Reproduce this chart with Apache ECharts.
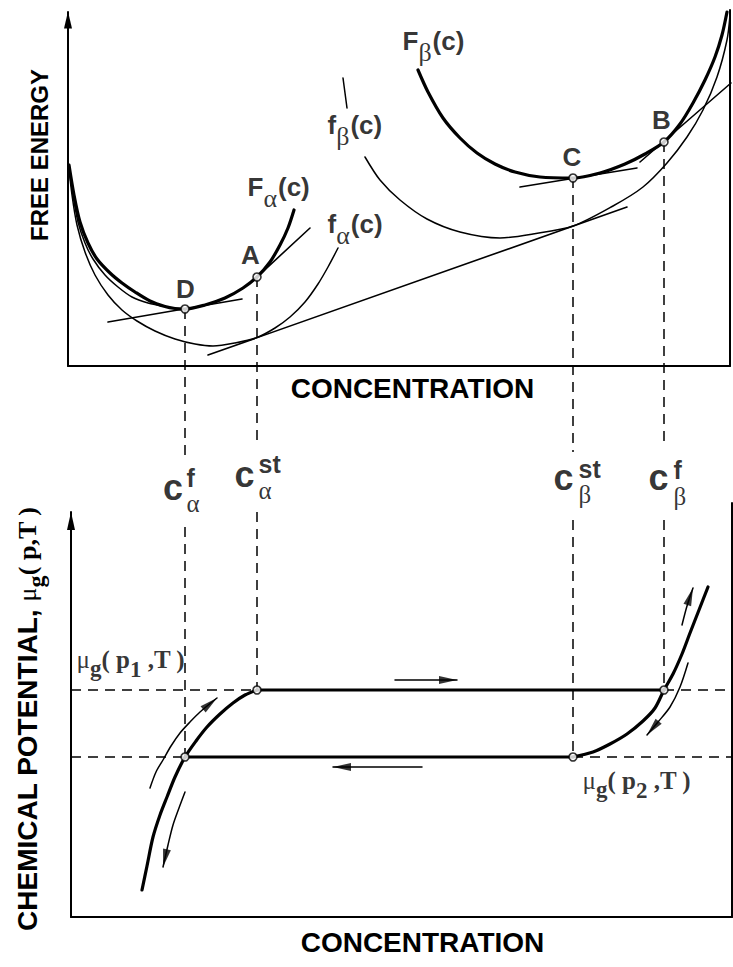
<!DOCTYPE html>
<html>
<head>
<meta charset="utf-8">
<script src="https://cdn.jsdelivr.net/npm/echarts@6/dist/echarts.min.js"></script>
<style>
  html, body { margin: 0; padding: 0; background: #fff; }
  #chart { width: 733px; height: 967px; }
</style>
</head>
<body>
<div id="chart"></div>
<script>
// ---------- Upper panel: free energy vs concentration (arbitrary units) ----------
// stressed alpha phase, F_alpha(c)
const bigFAlpha = [[0.1,20.1],[0.6,17.1],[1.2,14.4],[2.0,12.3],[2.9,10.7],[4.2,9.3],[5.4,8.3],[6.7,7.4],[8.2,6.5],[9.7,5.95],[10.7,5.75],[11.7,5.7],[13.7,6.1],[15.7,6.8],[17.5,7.8],[18.9,8.9],[20.2,10.4],[21.2,12.1],[22.0,13.8],[22.6,15.6]];
// second stroke running beside F_alpha on its steep left branch
const bigFAlphaEdge = [[0.1,20.1],[0.5,17.1],[1.0,14.4],[1.7,12.3],[2.5,10.7],[3.7,9.1],[5.0,7.9],[6.4,6.9],[8.0,6.3],[9.7,5.95]];
// unstressed alpha phase, f_alpha(c)
const smallFAlpha = [[0.0,20.6],[0.4,17.1],[0.9,14.1],[1.7,11.4],[2.7,9.1],[4.0,7.1],[5.4,5.6],[6.9,4.5],[8.7,3.5],[10.7,2.7],[12.7,2.2],[14.5,2.0],[16.7,2.3],[18.9,2.85],[20.7,3.8],[22.2,4.9],[23.7,6.4],[25.0,8.2],[26.0,9.9],[27.0,11.8]];
// unstressed beta phase, f_beta(c): short upper stroke and main branch
const smallFBetaTop = [[27.5,28.8],[27.9,25.8]];
const smallFBeta = [[29.7,20.9],[31.2,18.6],[33.2,16.6],[35.9,14.7],[39.2,13.4],[43.2,12.8],[46.5,13.2],[50.5,14.0],[54.5,16.0],[57.5,17.9],[59.9,20.3],[61.9,22.9],[63.5,25.6],[64.9,28.9],[65.9,32.6],[66.2,35.1]];
// stressed beta phase, F_beta(c)
const bigFBeta = [[35.0,29.6],[36.0,27.4],[37.5,24.8],[39.2,22.8],[40.9,21.3],[42.7,20.2],[44.7,19.4],[47.2,18.9],[50.5,18.8],[53.2,19.3],[55.7,20.2],[57.7,21.2],[59.6,22.4],[61.2,24.2],[62.5,26.3],[63.7,28.6],[64.7,30.9],[65.4,33.1],[65.9,35.4]];
// tangent lines
const commonTangent = [[14.0,1.1],[55.9,15.9]];
const tangentAtD = [[4.0,4.4],[17.4,6.7]];
const tangentAtA = [[18.2,8.25],[24.2,13.8]];
const tangentAtC = [[45.2,17.9],[56.9,19.8]];
const tangentAtB = [[57.2,20.4],[66.3,28.3]];
// marked states on the stressed curves
const stateNames = ['D', 'A', 'C', 'B'];
const stateConc = [11.7, 18.9, 50.5, 59.6];      // c_alpha^f, c_alpha^st, c_beta^st, c_beta^f
const stateEnergy = [5.7, 8.9, 18.8, 22.4];

// ---------- Lower panel: gas chemical potential vs concentration ----------
const muP1 = 22.7;   // mu_g(p1,T)
const muP2 = 16.0;   // mu_g(p2,T)
const alphaIsotherm = [[7.4,2.7],[7.9,5.1],[8.5,8.0],[9.2,10.2],[9.9,12.0],[10.7,14.0],[11.7,16.0],[12.8,17.6],[13.9,19.0],[15.2,20.3],[16.5,21.4],[17.7,22.2],[18.9,22.7]];
const betaIsotherm = [[50.5,16.0],[52.5,16.5],[54.2,17.3],[55.9,18.3],[57.5,19.6],[58.7,20.9],[59.6,22.7],[60.5,24.3],[61.4,26.3],[62.2,28.4],[63.1,30.7],[64.0,33.0]];
// direction-of-travel arrows
const alphaUpPath = [[8.2,12.9],[8.8,14.5],[9.5,15.7],[10.3,17.1],[11.2,18.4],[12.2,19.5],[13.2,20.5],[14.9,21.9]];
const alphaDownPath = [[11.7,12.5],[11.1,10.9],[10.5,9.2],[10.0,7.2],[9.5,5.0]];
const betaUpPath = [[61.4,29.2],[61.9,31.1],[62.5,32.9]];
const betaDownPath = [[62.0,25.4],[61.2,23.0],[60.2,21.0],[59.0,19.5],[57.9,18.2]];
const absorbArrow = [[32.7,23.7],[38.9,23.7]];
const desorbArrow = [[35.4,15.0],[26.5,15.0]];

// ---------- layout ----------
const INK = '#000';
const SANS = "'Liberation Sans', Arial, Helvetica, sans-serif";
const SERIF = "'Liberation Serif', 'DejaVu Serif', serif";
const TOP = { xMin: 0, xMax: 66.2, yMax: 35.4 };
const BOT = { xMin: 0.3, xMax: 66.4, yMax: 40.5 };
// where the dashed drop lines break around the c labels
const dropBreakTop = [-9.1, -8.1, -8.6, -8.1];   // upper-panel units
const dropBreakBot = [39.0, 40.5, 39.7, 39.7];   // lower-panel units

function curve(data, g, width, extra) {
  return Object.assign({
    type: 'line', xAxisIndex: g, yAxisIndex: g, data: data,
    symbol: 'none', showSymbol: false, smooth: 0.3, clip: false, silent: true, z: 3,
    lineStyle: { color: INK, width: width, cap: 'round', join: 'round' }
  }, extra || {});
}
function dashed(data, g) {
  return curve(data, g, 1.5, { smooth: false, z: 2, lineStyle: { color: INK, width: 1.5, type: [10, 7] } });
}
// arrow head placed at the last point, oriented along the final segment
// (both panels use the same pixel size for one unit on x and y)
function arrowHead(path, g, size) {
  const a = path[path.length - 2], b = path[path.length - 1];
  const dx = b[0] - a[0], dy = b[1] - a[1];
  const len = Math.hypot(dx, dy);
  const back = size[1] / 20;
  const cx = b[0] - dx / len * back, cy = b[1] - dy / len * back;
  const ang = Math.atan2(dy, dx) * 180 / Math.PI - 90;
  return {
    type: 'scatter', xAxisIndex: g, yAxisIndex: g, clip: false, silent: true, z: 4,
    symbol: 'triangle', symbolSize: size, symbolRotate: ang,
    itemStyle: { color: INK }, data: [[cx, cy]]
  };
}
function openPoints(data, g) {
  return {
    type: 'scatter', xAxisIndex: g, yAxisIndex: g, clip: false, silent: true, z: 6,
    symbol: 'circle', symbolSize: 8,
    itemStyle: { color: '#fff', borderColor: INK, borderWidth: 1.6 }, data: data
  };
}
const rich = {
  L: { fontFamily: SANS, fontWeight: 'bold', fontSize: 26, color: INK },
  Lsub: { fontFamily: SERIF, fontSize: 26, color: INK, padding: [24, 1, 0, 0] },
  P: { fontFamily: SANS, fontWeight: 'bold', fontSize: 26, color: INK },
  C: { fontFamily: SANS, fontWeight: 'bold', fontSize: 36, color: INK },
  sup: { fontFamily: SANS, fontWeight: 'bold', fontSize: 25, color: INK, lineHeight: 26 },
  sub: { fontFamily: SERIF, fontSize: 25, color: INK, lineHeight: 26 },
  mu: { fontFamily: SERIF, fontSize: 25, color: INK },
  g: { fontFamily: SERIF, fontWeight: 'bold', fontSize: 23, color: INK, padding: [18, 0, 0, 0] },
  m: { fontFamily: SERIF, fontWeight: 'bold', fontSize: 25, color: INK },
  n: { fontFamily: SERIF, fontWeight: 'bold', fontSize: 23, color: INK, padding: [20, 0, 0, 0] }
};
function texts(g, items) {
  return {
    type: 'scatter', xAxisIndex: g, yAxisIndex: g, clip: false, silent: true, z: 8,
    symbolSize: 1, itemStyle: { color: 'rgba(0,0,0,0)' },
    data: items.map(function (it) {
      return {
        value: it.at,
        label: { show: true, position: [0, 0], align: it.align || 'left', verticalAlign: 'middle',
                 formatter: it.text, rich: rich }
      };
    })
  };
}

const series = [];
// upper panel curves
series.push(curve(smallFAlpha, 0, 1.5));
series.push(curve(bigFAlphaEdge, 0, 1.5));
series.push(curve(bigFAlpha, 0, 3.2));
series.push(curve(smallFBetaTop, 0, 1.5, { smooth: false }));
series.push(curve(smallFBeta, 0, 1.5));
series.push(curve(bigFBeta, 0, 3.2));
[commonTangent, tangentAtD, tangentAtA, tangentAtC, tangentAtB].forEach(function (t) {
  series.push(curve(t, 0, 1.6, { smooth: false }));
});
// right frame edges
series.push(curve([[TOP.xMax, 0], [TOP.xMax, TOP.yMax + 0.2]], 0, 2, { smooth: false }));
series.push(curve([[BOT.xMax, 0], [BOT.xMax, BOT.yMax + 0.9]], 1, 2, { smooth: false }));
// dashed drop lines from the marked states down to the lower panel
const levelAt = [muP2, muP1, muP2, muP1];
stateConc.forEach(function (c, i) {
  series.push(dashed([[c, stateEnergy[i]], [c, dropBreakTop[i]]], 0));
  series.push(dashed([[c, dropBreakBot[i]], [c, levelAt[i]]], 1));
});
// dashed pressure levels
series.push(dashed([[BOT.xMin, muP1], [stateConc[1], muP1]], 1));
series.push(dashed([[stateConc[3], muP1], [BOT.xMax, muP1]], 1));
series.push(dashed([[BOT.xMin, muP2], [stateConc[0], muP2]], 1));
series.push(dashed([[stateConc[2], muP2], [BOT.xMax, muP2]], 1));
// lower panel isotherms and plateaus
series.push(curve(alphaIsotherm, 1, 3.2));
series.push(curve(betaIsotherm, 1, 3.2));
series.push(curve([[stateConc[1], muP1], [stateConc[3], muP1]], 1, 3, { smooth: false }));
series.push(curve([[stateConc[0], muP2], [stateConc[2], muP2]], 1, 3, { smooth: false }));
// arrows
[alphaUpPath, alphaDownPath, betaUpPath, betaDownPath].forEach(function (p) {
  series.push(curve(p, 1, 1.5));
  series.push(arrowHead(p, 1, [8, 18]));
});
[absorbArrow, desorbArrow].forEach(function (p) {
  series.push(curve(p, 1, 1.5, { smooth: false }));
  series.push(arrowHead(p, 1, [8, 18]));
});
// state markers
series.push(openPoints(stateConc.map(function (c, i) { return [c, stateEnergy[i]]; }), 0));
series.push(openPoints(stateConc.map(function (c, i) { return [c, levelAt[i]]; }), 1));

// labels
series.push(texts(0, [
  { at: [11.8, 7.65], text: '{P|' + stateNames[0] + '}', align: 'center' },
  { at: [18.3, 11.1], text: '{P|' + stateNames[1] + '}', align: 'center' },
  { at: [50.45, 20.9], text: '{P|' + stateNames[2] + '}', align: 'center' },
  { at: [59.4, 24.6], text: '{P|' + stateNames[3] + '}', align: 'center' },
  { at: [18.0, 17.9], text: '{L|F}{Lsub|α}{L|(c)}' },
  { at: [26.0, 14.2], text: '{L|f}{Lsub|α}{L|(c)}' },
  { at: [33.5, 32.5], text: '{L|F}{Lsub|β}{L|(c)}' },
  { at: [26.0, 24.1], text: '{L|f}{Lsub|β}{L|(c)}' },
  { at: [10.55, -12.2], text: '{C|c}', align: 'center' },
  { at: [11.9, -12.5], text: '{sup|f}\n{sub|α}' },
  { at: [17.7, -10.9], text: '{C|c}', align: 'center' },
  { at: [19.1, -11.15], text: '{sup|st}\n{sub|α}' },
  { at: [49.6, -11.2], text: '{C|c}', align: 'center' },
  { at: [51.1, -11.6], text: '{sup|st}\n{sub|β}' },
  { at: [59.1, -11.2], text: '{C|c}', align: 'center' },
  { at: [60.6, -11.75], text: '{sup|f}\n{sub|β}' }
]));
series.push(texts(1, [
  { at: [0.9, 25.7], text: '{mu|μ}{g|g}{m|( p}{n|1}{m| ,T )}' },
  { at: [51.5, 13.6], text: '{mu|μ}{g|g}{m|( p}{n|2}{m| ,T )}' }
]));

function valueAxis(g, lim, extra) {
  return Object.assign({
    type: 'value', gridIndex: g, min: lim[0], max: lim[1],
    axisLine: { show: true, onZero: false, lineStyle: { color: INK, width: 2 } },
    axisTick: { show: false }, axisLabel: { show: false }, splitLine: { show: false }
  }, extra);
}

const option = {
  animation: false,
  backgroundColor: '#fff',
  grid: [
    { left: 68, right: 3, top: 12, bottom: 601 },
    { left: 71, right: 1, top: 512, bottom: 50 }
  ],
  xAxis: [
    valueAxis(0, [TOP.xMin, TOP.xMax], {
      name: 'CONCENTRATION', nameLocation: 'middle', nameGap: 8,
      nameTextStyle: { fontFamily: SANS, fontWeight: 'bold', fontSize: 28, color: INK, padding: [0, 0, 0, 27] }
    }),
    valueAxis(1, [BOT.xMin, BOT.xMax], {
      name: 'CONCENTRATION', nameLocation: 'middle', nameGap: 11,
      nameTextStyle: { fontFamily: SANS, fontWeight: 'bold', fontSize: 28, color: INK, padding: [0, 0, 0, 42] }
    })
  ],
  yAxis: [
    valueAxis(0, [0, TOP.yMax], {
      axisLine: { show: true, onZero: false, symbol: ['none', 'triangle'], symbolSize: [8, 17], symbolOffset: [0, -8],
                  lineStyle: { color: INK, width: 2 } },
      name: 'FREE ENERGY', nameLocation: 'middle', nameRotate: 90, nameGap: 17,
      nameTextStyle: { fontFamily: SANS, fontWeight: 'bold', fontSize: 24, color: INK, padding: [0, 0, 0, 68] }
    }),
    valueAxis(1, [0, BOT.yMax], {
      axisLine: { show: true, onZero: false, symbol: ['none', 'triangle'], symbolSize: [8, 18], symbolOffset: [0, -9],
                  lineStyle: { color: INK, width: 2 } },
      name: '{a|CHEMICAL POTENTIAL, }{mu|μ}{g|g}{m|( p,T )}', nameLocation: 'middle', nameRotate: 90, nameGap: 23,
      nameTextStyle: {
        padding: [0, 9, 0, 0],
        rich: {
          a: { fontFamily: SANS, fontWeight: 'bold', fontSize: 28, color: INK },
          mu: { fontFamily: SERIF, fontSize: 26, color: INK },
          g: { fontFamily: SERIF, fontWeight: 'bold', fontSize: 24, color: INK, padding: [18, 0, 0, 0] },
          m: { fontFamily: SERIF, fontWeight: 'bold', fontSize: 26, color: INK }
        }
      }
    })
  ],
  series: series
};

const chart = echarts.init(document.getElementById('chart'), null, { renderer: 'svg' });
chart.setOption(option);
</script>
</body>
</html>
